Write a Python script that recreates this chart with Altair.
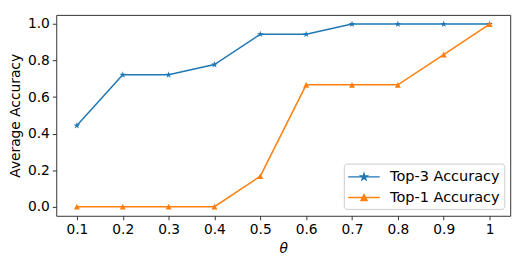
import altair as alt
import pandas as pd

theta = [0.1, 0.2, 0.3, 0.4, 0.5, 0.6, 0.7, 0.8, 0.9, 1.0]
top3 = [0.444, 0.722, 0.722, 0.778, 0.944, 0.944, 1.0, 1.0, 1.0, 1.0]
top1 = [0.0, 0.0, 0.0, 0.0, 0.167, 0.667, 0.667, 0.667, 0.833, 1.0]
series = ["Top-3 Accuracy", "Top-1 Accuracy"]
colors = ["#1f77b4", "#ff7f0e"]
x_ticks = [0.1, 0.2, 0.3, 0.4, 0.5, 0.6, 0.7, 0.8, 0.9, 1.0]
y_ticks = [0.0, 0.2, 0.4, 0.6, 0.8, 1.0]

rows = []
for t, v in zip(theta, top3):
    rows.append({"theta": t, "acc": v, "series": series[0], "legend": series[0]})
for t, v in zip(theta, top1):
    rows.append({"theta": t, "acc": v, "series": series[1], "legend": series[1]})
df = pd.DataFrame(rows)


def fmt(pts, s):
    return "M" + "L".join(f"{x*s:.3f},{y*s:.3f}" for x, y in pts) + "Z"


STAR = [(0, -1), (0.2245, -0.309), (0.951, -0.309), (0.363, 0.118), (0.588, 0.809),
        (0, 0.382), (-0.588, 0.809), (-0.363, 0.118), (-0.951, -0.309), (-0.2245, -0.309)]
TRI = [(0, -1), (1, 1), (-1, 1)]

star_mark = fmt(STAR, 1)
tri_mark = fmt(TRI, 1)
# legend paths: line + marker (unit = 8.5px)
half = 16 / 8.5
star_leg = f"M{-half:.3f},0L{half:.3f},0" + fmt(STAR, 0.38)
tri_leg = f"M{-half:.3f},0L{half:.3f},0" + fmt(TRI, 0.35)

xs = alt.X("theta:Q", scale=alt.Scale(domain=[0.055, 1.045], nice=False, zero=False),
           axis=alt.Axis(values=x_ticks, title="θ", titleFontStyle="italic",
                         labelExpr="datum.value == 1 ? '1' : format(datum.value, '.1f')"))
ys = alt.Y("acc:Q", scale=alt.Scale(domain=[-0.05, 1.05], nice=False, zero=False),
           axis=alt.Axis(values=y_ticks, format=".1f", title="Average Accuracy"))
col_scale = alt.Scale(domain=series, range=colors)

lines = alt.Chart(df).mark_line(strokeWidth=1.5).encode(
    x=xs, y=ys, color=alt.Color("series:N", scale=col_scale, legend=None))

p3 = alt.Chart(df).transform_filter(alt.datum.series == series[0]).mark_point(
    filled=True, opacity=1, shape=star_mark, size=52).encode(
    x=xs, y=ys, color=alt.Color("series:N", scale=col_scale, legend=None))
p1 = alt.Chart(df).transform_filter(alt.datum.series == series[1]).mark_point(
    filled=True, opacity=1, shape=tri_mark, size=36).encode(
    x=xs, y=ys, color=alt.Color("series:N", scale=col_scale, legend=None))


def mk_legend():
    return alt.Legend(orient="none", legendX=292, legendY=151,
                      symbolOpacity=1, symbolSize=289, symbolStrokeWidth=1.5,
                      symbolOffset=7, labelOffset=17, rowPadding=4,
                      padding=4, labelFontSize=14.7, strokeColor="#cccccc",
                      fillColor="white", cornerRadius=3)


leg = alt.Chart(df).mark_point(opacity=0, filled=True).encode(
    x=xs, y=ys,
    fill=alt.Fill("legend:N", sort="descending", scale=alt.Scale(range=colors), title=None,
                  legend=mk_legend()),
    stroke=alt.Stroke("legend:N", sort="descending", scale=alt.Scale(range=colors), title=None,
                      legend=mk_legend()),
    shape=alt.Shape("legend:N", sort="descending", scale=alt.Scale(range=[star_leg, tri_leg]),
                    title=None, legend=mk_legend()),
)

chart = alt.layer(lines, p3, p1, leg).properties(
    width=461, height=204,
    autosize=alt.AutoSizeParams(type="none"),
    padding={"left": 49, "top": 5, "right": 14, "bottom": 49},
).configure_view(stroke="#333333", strokeWidth=1).configure_axis(
    labelFont="DejaVu Sans", titleFont="DejaVu Sans", labelFontSize=14, titleFontSize=14,
    labelColor="black", titleColor="black", titleFontWeight="normal",
    grid=False, domain=False, tickColor="#333333", tickSize=4, labelPadding=3,
).configure_axisY(titlePadding=5).configure_axisX(titlePadding=5).configure_legend(
    labelFont="DejaVu Sans", labelColor="black")

chart.save("out.html", embed_options={"renderer": "svg", "actions": False})
